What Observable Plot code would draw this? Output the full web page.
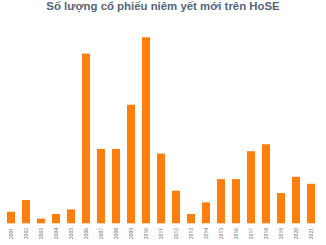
<!DOCTYPE html>
<html>
<head>
<meta charset="utf-8">
<script src="https://cdn.jsdelivr.net/npm/d3@7"></script>
<script src="https://cdn.jsdelivr.net/npm/@observablehq/plot@0.6"></script>
<style>
  html, body { margin: 0; padding: 0; background: #fff; overflow: hidden; }
  #title { height: 14px; line-height: 12px; text-align: center; font: bold 11.4px "Liberation Sans", Arial, sans-serif; color: #56657a; width: 326px; }
</style>
</head>
<body>
<div id="title">Số lượng cổ phiếu niêm yết mới trên HoSE</div>
<div id="chart"></div>
<script>
const years = ["2001","2002","2003","2004","2005","2006","2007","2008","2009","2010","2011","2012","2013","2014","2015","2016","2017","2018","2019","2020","2021"];
const counts = [5, 10, 2, 4, 6, 73, 32, 32, 51, 80, 30, 14, 4, 9, 19, 19, 31, 34, 13, 20, 17];

const data = years.map((y, i) => ({year: y, count: counts[i]}));

const chart = Plot.plot({
  width: 326,
  height: 231,
  marginTop: 0, marginBottom: 0, marginLeft: 0, marginRight: 0,
  style: {background: "#fff", overflow: "hidden"},
  x: {domain: years, range: [-9.8, 331.7], padding: 0.48, axis: null},
  y: {domain: [0, 80], range: [209.3, 23.3], axis: null},
  marks: [
    Plot.barY(data, {x: "year", y: "count", fill: "#ff7f0e"}),
    Plot.text(years, {
      x: d => d,
      y: -1.72,
      text: d => d,
      rotate: -90,
      textAnchor: "end",
      fontSize: 5,
      fill: "#6b6b6b"
    })
  ]
});
document.getElementById("chart").appendChild(chart);
</script>
</body>
</html>
